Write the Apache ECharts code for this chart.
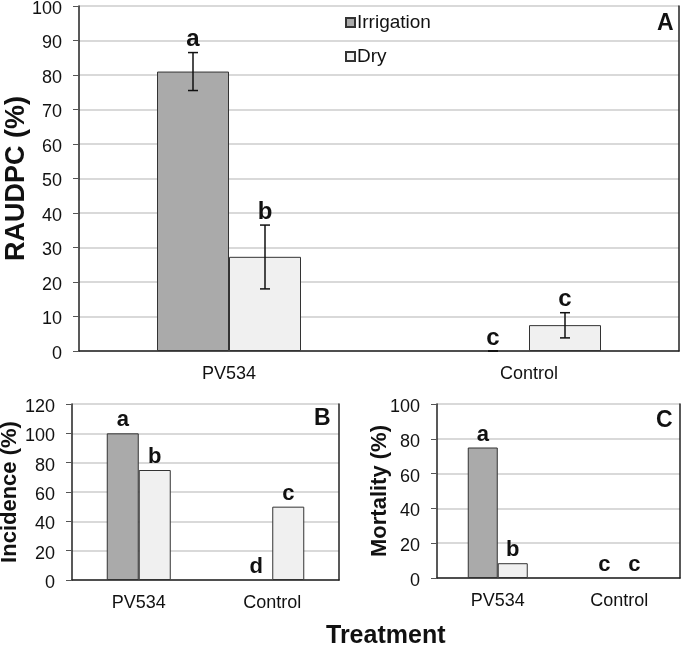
<!DOCTYPE html>
<html>
<head>
<meta charset="utf-8">
<script src="https://cdn.jsdelivr.net/npm/echarts@6/dist/echarts.min.js"></script>
<style>
  html, body { margin: 0; padding: 0; background: #fff; }
  #chart { width: 685px; height: 650px; }
</style>
</head>
<body>
<div id="chart"></div>
<script>
// categories and series names
const treatments = ['PV534', 'Control'];
const seriesNames = ['Irrigation', 'Dry'];

// panel A: RAUDPC (%)
const raudpcIrrigation = [81, 0];
const raudpcDry = [27.3, 7.5];
const raudpcIrrigationErr = [[75.5, 86.5], [0, 0]];
const raudpcDryErr = [[18, 36.5], [3.8, 11.1]];
const raudpcIrrigationLetters = ['a', 'c'];
const raudpcDryLetters = ['b', 'c'];

// panel B: incidence (%)
const incidenceIrrigation = [100, 0];
const incidenceDry = [75, 50];
const incidenceIrrigationLetters = ['a', 'd'];
const incidenceDryLetters = ['b', 'c'];

// panel C: mortality (%)
const mortalityIrrigation = [75, 0];
const mortalityDry = [8.5, 0];
const mortalityIrrigationLetters = ['a', 'c'];
const mortalityDryLetters = ['b', 'c'];

// axis ticks
const ticksA = { min: 0, max: 100, interval: 10 };
const ticksB = { min: 0, max: 120, interval: 20 };
const ticksC = { min: 0, max: 100, interval: 20 };

const FONT = '"Liberation Sans", Arial, sans-serif';
const IRR_COLOR = '#aaaaaa';
const DRY_COLOR = '#f0f0f0';
const AXIS_COLOR = '#222';

function errorSeries(errs, letters, offset, axisIdx) {
    return {
        type: 'custom',
        xAxisIndex: axisIdx,
        yAxisIndex: axisIdx,
        z: 5,
        data: errs.map((e, i) => [i, e[0], e[1]]),
        renderItem: (params, api) => {
            const lo = api.coord([api.value(0), api.value(1)]);
            const hi = api.coord([api.value(0), api.value(2)]);
            const x = lo[0] + offset;
            const style = { stroke: '#111', lineWidth: 1.5 };
            return {
                type: 'group',
                children: [
                    { type: 'line', shape: { x1: x, y1: lo[1], x2: x, y2: hi[1] }, style },
                    { type: 'line', shape: { x1: x - 5, y1: hi[1], x2: x + 5, y2: hi[1] }, style },
                    { type: 'line', shape: { x1: x - 5, y1: lo[1], x2: x + 5, y2: lo[1] }, style },
                    {
                        type: 'text',
                        style: {
                            text: letters[params.dataIndex],
                            x: x, y: hi[1] - 1,
                            align: 'center', verticalAlign: 'bottom',
                            font: 'bold 24px ' + FONT, fill: '#111'
                        }
                    }
                ]
            };
        }
    };
}

function barSeries(name, data, color, axisIdx, width, letters) {
    const s = {
        name: name,
        type: 'bar',
        xAxisIndex: axisIdx,
        yAxisIndex: axisIdx,
        // zero bars get no outline so they vanish like in the figure
        data: data.map(v => v === 0 ? { value: v, itemStyle: { borderWidth: 0 } } : v),
        barWidth: width,
        barGap: '0%',
        itemStyle: { color: color, borderColor: '#333', borderWidth: 1 },
        emphasis: { disabled: true }
    };
    if (letters) {
        s.label = {
            show: true,
            position: 'top',
            distance: 2,
            formatter: (p) => letters[p.dataIndex],
            fontFamily: FONT,
            fontWeight: 'bold',
            fontSize: 22,
            color: '#111'
        };
    }
    return s;
}

function xAxisDef(gridIdx) {
    return {
        type: 'category',
        gridIndex: gridIdx,
        data: treatments,
        axisLine: { lineStyle: { color: AXIS_COLOR, width: 1.5 } },
        axisTick: { show: false },
        axisLabel: { color: '#111', fontFamily: FONT, fontSize: 18, margin: 14 }
    };
}

function yAxisDef(gridIdx, ticks, name, nameSize, nameGap) {
    return {
        type: 'value',
        gridIndex: gridIdx,
        min: ticks.min, max: ticks.max, interval: ticks.interval,
        name: name,
        nameLocation: 'middle',
        nameGap: nameGap,
        nameMoveOverlap: false,
        nameTextStyle: { fontFamily: FONT, fontWeight: 'bold', fontSize: nameSize, color: '#111' },
        axisLine: { show: true, lineStyle: { color: AXIS_COLOR, width: 1.5 } },
        axisTick: { show: true, inside: false, length: 6, lineStyle: { color: '#555' } },
        // labels sit a little below their grid line in the figure
        axisLabel: {
            color: '#111', fontFamily: FONT, fontSize: 18, margin: 17,
            verticalAlign: 'top', lineHeight: 6
        },
        splitLine: { show: true, lineStyle: { color: '#d9d9d9', width: 2 } }
    };
}

function rightBorder(gridIdx, ticks) {
    return {
        type: 'value',
        gridIndex: gridIdx,
        position: 'right',
        min: ticks.min, max: ticks.max, interval: ticks.interval,
        axisLine: { show: true, lineStyle: { color: AXIS_COLOR, width: 1.5 } },
        axisTick: { show: false },
        axisLabel: { show: false },
        splitLine: { show: false }
    };
}

const chart = echarts.init(document.getElementById('chart'));

const option = {
    animation: false,
    grid: [
        { left: 79, right: 6, top: 6, bottom: 299, outerBoundsMode: 'none' },
        { left: 72, right: 346, top: 404, bottom: 70, outerBoundsMode: 'none' },
        { left: 437, right: 5, top: 404, bottom: 72, outerBoundsMode: 'none' }
    ],
    legend: {
        data: seriesNames,
        orient: 'vertical',
        left: 340,
        top: 8,
        itemWidth: 9,
        itemHeight: 9,
        itemGap: 15,
        icon: 'rect',
        textStyle: { fontFamily: FONT, fontSize: 19, color: '#111', padding: [0, 0, 0, -3] }
    },
    xAxis: [xAxisDef(0), xAxisDef(1), xAxisDef(2)],
    yAxis: [
        yAxisDef(0, ticksA, 'RAUDPC (%)', 27, 49),
        yAxisDef(1, ticksB, 'Incidence (%)', 22, 51),
        yAxisDef(2, ticksC, 'Mortality (%)', 22, 46),
        rightBorder(0, ticksA),
        rightBorder(1, ticksB),
        rightBorder(2, ticksC)
    ],
    graphic: [
        { type: 'text', left: 657, top: 12, style: { text: 'A', font: 'bold 23px ' + FONT, fill: '#111' } },
        { type: 'text', left: 314, top: 407, style: { text: 'B', font: 'bold 23px ' + FONT, fill: '#111' } },
        { type: 'text', left: 656, top: 409, style: { text: 'C', font: 'bold 23px ' + FONT, fill: '#111' } },
        { type: 'text', left: 326, top: 624, style: { text: 'Treatment', font: 'bold 25px ' + FONT, fill: '#111' } }
    ],
    series: [
        barSeries(seriesNames[0], raudpcIrrigation, IRR_COLOR, 0, 72),
        barSeries(seriesNames[1], raudpcDry, DRY_COLOR, 0, 72),
        errorSeries(raudpcIrrigationErr, raudpcIrrigationLetters, -36, 0),
        errorSeries(raudpcDryErr, raudpcDryLetters, 36, 0),
        barSeries(seriesNames[0], incidenceIrrigation, IRR_COLOR, 1, 32, incidenceIrrigationLetters),
        barSeries(seriesNames[1], incidenceDry, DRY_COLOR, 1, 32, incidenceDryLetters),
        barSeries(seriesNames[0], mortalityIrrigation, IRR_COLOR, 2, 30, mortalityIrrigationLetters),
        barSeries(seriesNames[1], mortalityDry, DRY_COLOR, 2, 30, mortalityDryLetters)
    ]
};

chart.setOption(option);
window.addEventListener('resize', () => { chart.resize(); });
</script>
</body>
</html>
